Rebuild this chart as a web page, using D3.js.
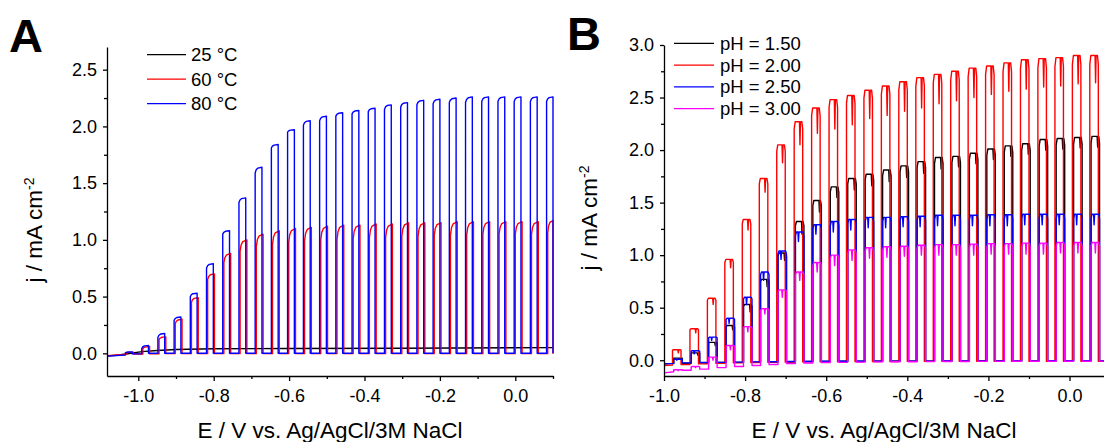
<!DOCTYPE html>
<html>
<head>
<meta charset="utf-8">
<script src="https://cdn.jsdelivr.net/npm/d3@7"></script>
<style>
  body { margin: 0; background: #fff; }
  svg { display: block; font-family: "Liberation Sans", Arial, sans-serif; }
  .axis text { font-size: 18px; fill: #000; }
  .axis path, .axis line { stroke: #000; stroke-width: 1.3; }
  .trace { fill: none; stroke-width: 1.4; stroke-linejoin: round; }
</style>
</head>
<body>
<svg id="chart" width="1104" height="442"></svg>
<script>
// ---------- Panel A: temperature series (chopped light LSV) ----------
const tempLabels = ['25 °C', '60 °C', '80 °C'];
const tempColors = ['#000000', '#ff0000', '#0000ff'];

// light-on potentials (V) and on-duration
const onA = [-1.034, -0.991, -0.948, -0.905, -0.862, -0.819, -0.776, -0.733, -0.690, -0.647,
  -0.604, -0.562, -0.519, -0.476, -0.433, -0.390, -0.347, -0.304, -0.261, -0.218,
  -0.175, -0.132, -0.089, -0.046, -0.003, 0.040, 0.083];
const onWidthA = 0.018;

// 80 °C photocurrent at light-on and light-off of each pulse (mA cm-2)
const blueFirstA = [0.005, 0.04, 0.14, 0.29, 0.50, 0.75, 1.05, 1.33, 1.59, 1.81,
  1.95, 2.01, 2.05, 2.09, 2.11, 2.13, 2.15, 2.17, 2.19, 2.20,
  2.21, 2.21, 2.22, 2.22, 2.22, 2.22, 2.22];
const blueLastA = [0.012, 0.07, 0.175, 0.32, 0.53, 0.79, 1.08, 1.37, 1.64, 1.84,
  1.97, 2.05, 2.09, 2.12, 2.14, 2.16, 2.19, 2.21, 2.23, 2.24,
  2.25, 2.26, 2.26, 2.26, 2.26, 2.26, 2.26];
const blueDarkA = [-0.015, -0.005, 0, 0, 0, 0, 0, 0, 0, 0, 0, 0, 0, 0,
  0, 0, 0, 0, 0, 0, 0, 0, 0, 0, 0, 0, 0, 0];
const blueStartA = -0.025;

// 60 °C
const redFirstA = [0.0, 0.04, 0.12, 0.26, 0.45, 0.65, 0.80, 0.90, 0.94, 0.96,
  0.98, 0.99, 1.00, 1.00, 1.01, 1.02, 1.02, 1.03, 1.03, 1.04,
  1.04, 1.04, 1.05, 1.05, 1.05, 1.05, 1.06];
const redLastA = [0.01, 0.06, 0.145, 0.30, 0.49, 0.70, 0.88, 1.00, 1.05, 1.08,
  1.10, 1.11, 1.12, 1.13, 1.13, 1.14, 1.14, 1.15, 1.15, 1.15,
  1.16, 1.16, 1.16, 1.16, 1.16, 1.16, 1.17];
const redDarkA = [-0.008, -0.006, -0.004, -0.003, -0.003, -0.003, -0.003, -0.003, -0.003, -0.003,
  -0.003, -0.003, -0.003, -0.003, -0.003, -0.003, -0.003, -0.003, -0.003, -0.003,
  -0.003, -0.003, -0.003, -0.003, -0.003, -0.003, -0.003, -0.003];
const redStartA = -0.02;
const redLagA = 0.003;

// 25 °C: no photo-response, plain curve
const eBlackA = [-1.083, -1.05, -1.02, -0.99, -0.95, -0.9, -0.8, -0.6, -0.3, 0.1];
const jBlackA = [-0.025, -0.015, 0.0, 0.015, 0.025, 0.033, 0.04, 0.043, 0.045, 0.05];

// ---------- Panel B: pH series ----------
const phLabels = ['pH = 1.50', 'pH = 2.00', 'pH = 2.50', 'pH = 3.00'];
const phColors = ['#000000', '#ff0000', '#0000ff', '#ff00ff'];

const onB = [-0.979, -0.936, -0.893, -0.850, -0.807, -0.765, -0.722, -0.679, -0.636, -0.593,
  -0.550, -0.507, -0.464, -0.421, -0.379, -0.336, -0.293, -0.250, -0.207, -0.164,
  -0.121, -0.078, -0.036, 0.007, 0.050];
const onWidthB = 0.021;

const blackTopB = [0.02, 0.07, 0.17, 0.33, 0.53, 0.77, 1.02, 1.32, 1.52, 1.65,
  1.73, 1.77, 1.81, 1.85, 1.89, 1.93, 1.94, 1.97, 2.01, 2.04,
  2.06, 2.10, 2.11, 2.12, 2.13];
const blackDipB = [0.01, 0.05, 0.14, 0.29, 0.46, 0.70, 0.95, 1.20, 1.41, 1.55,
  1.62, 1.66, 1.70, 1.74, 1.78, 1.82, 1.84, 1.87, 1.91, 1.94,
  1.96, 2.00, 2.01, 2.02, 2.03];
const blackDarkB = [-0.03, -0.028, -0.025, -0.022, -0.02, -0.018, -0.016, -0.014, -0.012, -0.011,
  -0.01, -0.01, -0.01, -0.009, -0.009, -0.008, -0.008, -0.008, -0.007, -0.007,
  -0.007, -0.006, -0.006, -0.006, -0.005, -0.005];

const redTopB = [0.10, 0.30, 0.59, 0.96, 1.34, 1.73, 2.05, 2.27, 2.40, 2.48,
  2.52, 2.57, 2.61, 2.65, 2.69, 2.72, 2.75, 2.78, 2.80, 2.83,
  2.86, 2.87, 2.88, 2.90, 2.90];
const redDipB = [0.07, 0.26, 0.53, 0.88, 1.24, 1.60, 1.88, 2.05, 2.16, 2.20,
  2.24, 2.30, 2.33, 2.37, 2.40, 2.44, 2.47, 2.50, 2.53, 2.56,
  2.58, 2.60, 2.61, 2.63, 2.64];
const redDarkB = [-0.045, -0.04, -0.035, -0.03, -0.025, -0.022, -0.02, -0.018, -0.016, -0.015,
  -0.014, -0.013, -0.012, -0.012, -0.011, -0.011, -0.01, -0.01, -0.01, -0.01,
  -0.01, -0.01, -0.01, -0.01, -0.01, -0.01];

const blueTopB = [0.01, 0.09, 0.22, 0.40, 0.60, 0.84, 1.04, 1.22, 1.29, 1.32,
  1.34, 1.36, 1.36, 1.365, 1.37, 1.38, 1.38, 1.38, 1.385, 1.385,
  1.39, 1.39, 1.39, 1.39, 1.39];
const blueDipB = [0.0, 0.06, 0.19, 0.35, 0.53, 0.76, 0.96, 1.13, 1.20, 1.22,
  1.24, 1.26, 1.26, 1.27, 1.27, 1.28, 1.28, 1.28, 1.28, 1.28,
  1.29, 1.29, 1.29, 1.29, 1.29];
const blueDarkB = [-0.03, -0.025, -0.022, -0.02, -0.018, -0.016, -0.014, -0.012, -0.011, -0.01,
  -0.01, -0.009, -0.009, -0.008, -0.008, -0.008, -0.007, -0.007, -0.007, -0.006,
  -0.006, -0.006, -0.005, -0.005, -0.005, -0.005];

const magentaTopB = [-0.09, -0.06, 0.03, 0.14, 0.32, 0.49, 0.67, 0.84, 0.93, 1.00,
  1.05, 1.07, 1.08, 1.085, 1.095, 1.10, 1.10, 1.105, 1.11, 1.11,
  1.115, 1.115, 1.12, 1.12, 1.12];
const magentaDipB = [-0.10, -0.07, 0.0, 0.10, 0.27, 0.44, 0.60, 0.76, 0.84, 0.90,
  0.95, 0.97, 0.98, 0.99, 1.0, 1.0, 1.0, 1.0, 1.01, 1.01,
  1.01, 1.01, 1.02, 1.02, 1.02];
const magentaDarkB = [-0.11, -0.095, -0.085, -0.07, -0.06, -0.05, -0.04, -0.032, -0.026, -0.022,
  -0.02, -0.018, -0.016, -0.015, -0.014, -0.013, -0.012, -0.012, -0.011, -0.011,
  -0.01, -0.01, -0.01, -0.01, -0.01, -0.008];

const startB = [-0.035, -0.05, -0.035, -0.12]; // dark current at -1.0 V
const dipAtB = [0.72, 0.62, 0.3, 0.45];          // where in the pulse the dip sits
const lagB = [0.003, 0, 0.003, 0.003];           // light-on delay per trace (V)

const xLabel = 'E / V vs. Ag/AgCl/3M NaCl';

// ---------- helpers ----------
// pulse with a rounded rise from first to last value
function chopA(on, w, lag, first, last, dark, startLevel, E0, E1) {
  const pts = [[E0, startLevel]];
  on.forEach((e, i) => {
    const a = e + lag;
    const b = Math.min(a + w, E1);
    const s = first[i], f = last[i], d = b - a;
    pts.push([a, dark[i]], [a, s],
      [a + 0.15 * d, s + 0.55 * (f - s)],
      [a + 0.4 * d, s + 0.85 * (f - s)],
      [b, f], [b, dark[i + 1]]);
  });
  pts.push([E1, dark[on.length]]);
  return pts;
}

// pulse with a flat top and one narrow dip
function chopB(on, w, lag, top, dip, dipAt, dark, startLevel, E0, E1) {
  const pts = [[E0, startLevel]];
  on.forEach((e, i) => {
    const a = e + lag, b = Math.min(a + w, E1), d = b - a;
    const t = top[i], r = 0.03 * (t - dark[i]);
    const p = a + dipAt * d;
    pts.push([a, dark[i]], [a, t - r], [a + 0.12 * d, t],
      [p, t], [p + 0.06 * d, dip[i]], [p + 0.12 * d, t],
      [b - 0.1 * d, t], [b, t - r], [b, dark[i + 1]]);
  });
  pts.push([E1, dark[on.length]]);
  return pts;
}

const svg = d3.select('#chart');

function drawAxes(g, x, y, xMajor, xMinor, yMajor, yMinor) {
  const [x0] = x.range();
  const [y0] = y.range();
  g.append('g').attr('class', 'axis').attr('transform', `translate(0,${y0})`)
    .call(d3.axisBottom(x).tickValues(xMinor).tickFormat('').tickSize(3).tickSizeOuter(0))
    .call(s => s.select('.domain').remove());
  g.append('g').attr('class', 'axis').attr('transform', `translate(0,${y0})`)
    .call(d3.axisBottom(x).tickValues(xMajor).tickSize(5).tickPadding(8).tickSizeOuter(0))
    .call(s => s.selectAll('text').text(d => d3.format('.1f')(d).replace('−', '-')));
  g.append('g').attr('class', 'axis').attr('transform', `translate(${x0},0)`)
    .call(d3.axisLeft(y).tickValues(yMinor).tickFormat('').tickSize(3).tickSizeOuter(0))
    .call(s => s.select('.domain').remove());
  g.append('g').attr('class', 'axis').attr('transform', `translate(${x0},0)`)
    .call(d3.axisLeft(y).tickValues(yMajor).tickFormat(d3.format('.1f')).tickSize(4).tickPadding(6).tickSizeOuter(0));
}

function yTitle(g, tx, ty) {
  const t = g.append('text').attr('transform', `translate(${tx},${ty}) rotate(-90)`)
    .attr('text-anchor', 'middle').style('font-size', '22.5px');
  t.append('tspan').text('j / mA cm');
  t.append('tspan').attr('dy', '-0.55em').style('font-size', '14px').text('-2');
}

// ---------- Panel A ----------
const xA = d3.scaleLinear().domain([-1.083, 0.1]).range([107, 553]);
const yA = d3.scaleLinear().domain([-0.2, 2.7]).range([376, 47]);
const gA = svg.append('g');

svg.append('clipPath').attr('id', 'clipA').append('rect')
  .attr('x', 107).attr('y', 40).attr('width', 447).attr('height', 337);

const lineA = d3.line().x(d => xA(d[0])).y(d => yA(d[1]));
const seriesA = [
  d3.zip(eBlackA, jBlackA),
  chopA(onA, onWidthA, redLagA, redFirstA, redLastA, redDarkA, redStartA, -1.083, 0.1),
  chopA(onA, onWidthA, 0, blueFirstA, blueLastA, blueDarkA, blueStartA, -1.083, 0.1)
];
gA.append('g').attr('clip-path', 'url(#clipA)')
  .selectAll('path').data(seriesA).join('path')
  .attr('class', 'trace')
  .attr('stroke', (d, i) => tempColors[i])
  .attr('d', lineA);

drawAxes(gA, xA, yA,
  [-1.0, -0.8, -0.6, -0.4, -0.2, 0.0],
  [-0.9, -0.7, -0.5, -0.3, -0.1, 0.1],
  [0, 0.5, 1.0, 1.5, 2.0, 2.5],
  [0.25, 0.75, 1.25, 1.75, 2.25]);

// legend A
const legA = gA.append('g').selectAll('g').data(tempLabels).join('g')
  .attr('transform', (d, i) => `translate(147,${54.7 + i * 24.5})`);
legA.append('line').attr('x1', 0).attr('x2', 39).attr('stroke', (d, i) => tempColors[i]).attr('stroke-width', 1.3);
legA.append('text').attr('x', 44).attr('dy', '0.35em').style('font-size', '18.5px').text(d => d);

gA.append('text').attr('x', 330).attr('y', 438).attr('text-anchor', 'middle')
  .style('font-size', '22.5px').text(xLabel);
yTitle(gA, 42, 230);
gA.append('text').attr('x', 9).attr('y', 52).style('font-size', '47px').style('font-weight', 'bold').text('A');

// ---------- Panel B ----------
const xB = d3.scaleLinear().domain([-1.0, 0.085]).range([664, 1104]);
const yB = d3.scaleLinear().domain([-0.15, 3.0]).range([376, 45]);
const gB = svg.append('g');

svg.append('clipPath').attr('id', 'clipB').append('rect')
  .attr('x', 664).attr('y', 40).attr('width', 440).attr('height', 337);

const lineB = d3.line().x(d => xB(d[0])).y(d => yB(d[1]));
const seriesB = [
  chopB(onB, onWidthB, lagB[0], blackTopB, blackDipB, dipAtB[0], blackDarkB, startB[0], -1.0, 0.085),
  chopB(onB, onWidthB, lagB[1], redTopB, redDipB, dipAtB[1], redDarkB, startB[1], -1.0, 0.085),
  chopB(onB, onWidthB, lagB[2], blueTopB, blueDipB, dipAtB[2], blueDarkB, startB[2], -1.0, 0.085),
  chopB(onB, onWidthB, lagB[3], magentaTopB, magentaDipB, dipAtB[3], magentaDarkB, startB[3], -1.0, 0.085)
];
gB.append('g').attr('clip-path', 'url(#clipB)')
  .selectAll('path').data(seriesB).join('path')
  .attr('class', 'trace')
  .attr('stroke', (d, i) => phColors[i])
  .attr('d', lineB);

drawAxes(gB, xB, yB,
  [-1.0, -0.8, -0.6, -0.4, -0.2, 0.0],
  [-0.9, -0.7, -0.5, -0.3, -0.1],
  [0, 0.5, 1.0, 1.5, 2.0, 2.5, 3.0],
  [0.25, 0.75, 1.25, 1.75, 2.25, 2.75]);

const legB = gB.append('g').selectAll('g').data(phLabels).join('g')
  .attr('transform', (d, i) => `translate(674,${43.3 + i * 21.8})`);
legB.append('line').attr('x1', 0).attr('x2', 40).attr('stroke', (d, i) => phColors[i]).attr('stroke-width', 1.3);
legB.append('text').attr('x', 46).attr('dy', '0.35em').style('font-size', '18.5px').text(d => d);

gB.append('text').attr('x', 884).attr('y', 438).attr('text-anchor', 'middle')
  .style('font-size', '22.5px').text(xLabel);
yTitle(gB, 597, 218);
gB.append('text').attr('x', 567).attr('y', 50).style('font-size', '47px').style('font-weight', 'bold').text('B');
</script>
</body>
</html>
